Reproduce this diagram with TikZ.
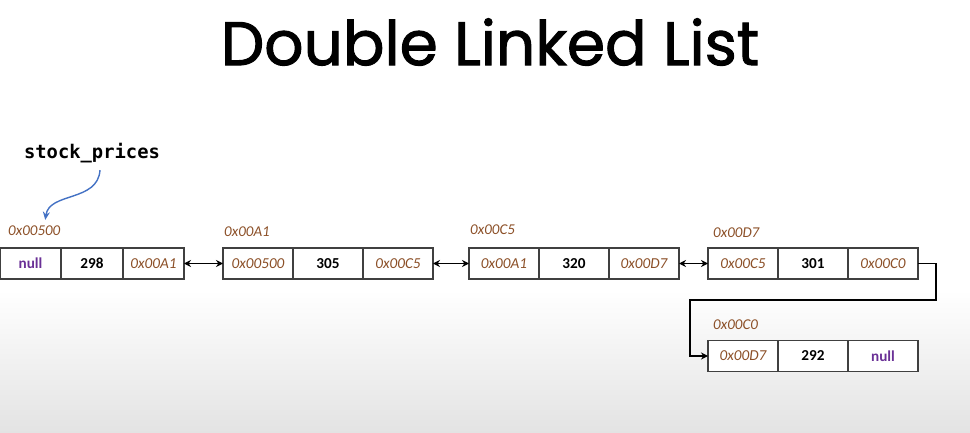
\documentclass[tikz,border=0pt]{standalone}
\usepackage{fontspec}
\newfontfamily\titlefont[FakeBold=1.6]{Poppins}
\newfontfamily\cellfont{Carlito}
\newfontfamily\codefont{DejaVu Sans Mono}
\usetikzlibrary{arrows.meta,positioning}
\definecolor{boxc}{RGB}{64,64,64}
\definecolor{addrc}{RGB}{140,80,40}
\definecolor{nullc}{RGB}{106,48,150}
\definecolor{ptrblue}{RGB}{68,114,196}
\begin{document}
\begin{tikzpicture}[x=1pt,y=-1pt,
  cell/.style={draw=boxc, line width=1.3pt, minimum height=31pt, inner sep=0pt, outer sep=0pt,
    font=\cellfont\fontsize{15.2}{17}\selectfont, anchor=west, fill=white},
  wcell/.style={cell, minimum width=70pt},
  addr/.style={text=addrc, font=\cellfont\itshape\fontsize{15.2}{17}\selectfont},
  val/.style={font=\cellfont\bfseries\fontsize{15.2}{17}\selectfont},
  nul/.style={text=nullc, font=\cellfont\bfseries\fontsize{15.2}{17}\selectfont},
  lbl/.style={anchor=west, inner sep=0pt, text=addrc, font=\cellfont\itshape\fontsize{15}{16}\selectfont},
  link/.style={line width=1.4pt, {Stealth[length=7pt,width=7pt]}-{Stealth[length=7pt,width=7pt]}},
  onelink/.style={line width=1.4pt, -{Stealth[length=7pt,width=7pt]}}
]
\useasboundingbox (0,0) rectangle (970,433);
\shade[top color=white, bottom color=black!11] (0,290) rectangle (970,433);

\node[font=\titlefont\fontsize{61.5}{64}\selectfont, inner sep=0pt] (title) at (490,42) {Double Linked List};

\node[font=\codefont\bfseries\fontsize{18.8}{20}\selectfont, inner sep=0pt] (sp) at (92,153) {stock\_prices};

% node 1
\node[cell, minimum width=61pt, nul] (n1a) at (0,263.5) {null};
\node[cell, minimum width=62pt, val, right=0pt of n1a.east, anchor=west] (n1b) {298};
\node[cell, minimum width=61pt, addr, right=0pt of n1b.east, anchor=west] (n1c) {0x00A1};
\node[lbl] (l1) at (8,231) {0x00500};

% node 2
\node[wcell, addr] (n2a) at (223,263.5) {0x00500};
\node[wcell, val, right=0pt of n2a.east, anchor=west] (n2b) {305};
\node[wcell, addr, right=0pt of n2b.east, anchor=west] (n2c) {0x00C5};
\node[lbl] (l2) at (224,232) {0x00A1};

% node 3
\node[wcell, addr] (n3a) at (469,263.5) {0x00A1};
\node[wcell, val, right=0pt of n3a.east, anchor=west] (n3b) {320};
\node[wcell, addr, right=0pt of n3b.east, anchor=west] (n3c) {0x00D7};
\node[lbl] (l3) at (470,230) {0x00C5};

% node 4
\node[wcell, addr] (n4a) at (708,263.5) {0x00C5};
\node[wcell, val, right=0pt of n4a.east, anchor=west] (n4b) {301};
\node[wcell, addr, right=0pt of n4b.east, anchor=west] (n4c) {0x00C0};
\node[lbl] (l4) at (713,233) {0x00D7};

% node 5
\node[wcell, addr] (n5a) at (708,356) {0x00D7};
\node[wcell, val, right=0pt of n5a.east, anchor=west] (n5b) {292};
\node[wcell, nul, right=0pt of n5b.east, anchor=west] (n5c) {null};
\node[lbl] (l5) at (713,325) {0x00C0};

% links
\draw[link] (n1c.east) -- (n2a.west);
\draw[link] (n2c.east) -- (n3a.west);
\draw[link] (n3c.east) -- (n4a.west);
\coordinate (t1) at (936,300);
\coordinate (t2) at (690,300);
\draw[onelink] (n4c.east) -| (t1) -- (t2) |- (n5a.west);

\draw[ptrblue, line width=1.4pt, -{Stealth[length=8pt,width=7pt]}]
  ([xshift=8pt,yshift=-7pt]sp.south) .. controls +(-2,32) and +(4,-28) .. ([xshift=11pt,yshift=6pt]l1.north);
\end{tikzpicture}
\end{document}
